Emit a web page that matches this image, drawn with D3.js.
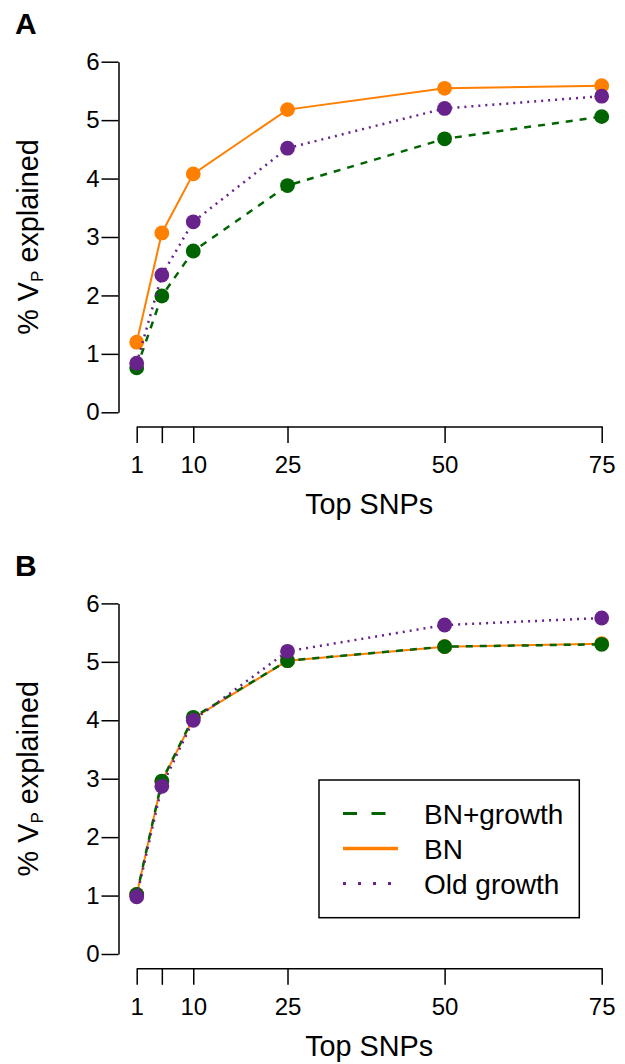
<!DOCTYPE html>
<html><head><meta charset="utf-8">
<script src="https://cdn.jsdelivr.net/npm/d3@7"></script>
<style>
body{margin:0;background:#fff;}
text{font-family:"Liberation Sans",Arial,Helvetica,sans-serif;fill:#000;}
</style></head>
<body>
<svg id="chart" width="625" height="1064"></svg>
<script>
const snps = [1, 5, 10, 25, 50, 75];
const xTickLabels = ["1", "", "10", "25", "50", "75"];
const yTicks = [0, 1, 2, 3, 4, 5, 6];
const seriesNames = ["BN+growth", "BN", "Old growth"];
const seriesColors = ["#006400", "#FF7F00", "#68228B"];

// Panel A
const A_bnGrowth = [0.76, 1.99, 2.76, 3.88, 4.68, 5.06];
const A_bn       = [1.20, 3.07, 4.08, 5.18, 5.545, 5.59];
const A_old      = [0.84, 2.35, 3.26, 4.52, 5.20, 5.41];
// Panel B
const B_bnGrowth = [1.02, 2.96, 4.05, 5.02, 5.26, 5.30];
const B_bn       = [1.02, 2.95, 4.03, 5.02, 5.26, 5.31];
const B_old      = [0.98, 2.87, 4.00, 5.18, 5.63, 5.75];

const svg = d3.select("#chart");
const styles = {
  "BN+growth": {dash: "7,7", width: 2.5},
  "BN": {dash: null, width: 2},
  "Old growth": {dash: "2,5", width: 2.5}
};
const drawOrder = ["BN", "BN+growth", "Old growth"];

function panel(opts) {
  const g = svg.append("g");
  const x = d3.scaleLinear().domain([1, 75]).range([136.7, 601.7]);
  const y = d3.scaleLinear().domain([0, 6]).range([opts.y0, opts.y0 - 350.6]);
  const axX = 118.5;
  const axisY = opts.y0 + 14.3;

  // y axis
  const ya = g.append("g").attr("transform", `translate(${axX},0)`)
    .call(d3.axisLeft(y).tickValues(yTicks).tickFormat(d3.format("d")).tickSize(17).tickPadding(2).tickSizeOuter(0));
  ya.select(".domain").attr("stroke", "#000").attr("stroke-width", 1.5);
  ya.selectAll(".tick line").attr("stroke", "#000").attr("stroke-width", 1.5);
  ya.selectAll(".tick text").attr("font-size", 24).attr("font-family", "Liberation Sans, Arial, sans-serif").attr("fill", "#000");

  // x axis
  const xa = g.append("g").attr("transform", `translate(0,${axisY})`)
    .call(d3.axisBottom(x).tickValues(snps).tickFormat((d, i) => xTickLabels[i]).tickSize(16.5).tickPadding(13).tickSizeOuter(0));
  xa.select(".domain").attr("stroke", "#000").attr("stroke-width", 1.5);
  xa.selectAll(".tick line").attr("stroke", "#000").attr("stroke-width", 1.5);
  xa.selectAll(".tick text").attr("font-size", 24).attr("font-family", "Liberation Sans, Arial, sans-serif").attr("fill", "#000");

  // titles
  g.append("text").attr("x", 369.2).attr("y", axisY + 87.5).attr("text-anchor", "middle")
    .attr("font-size", 28.8).text("Top SNPs");
  const ty = (y(0) + y(6)) / 2;
  const yt = g.append("text").attr("transform", `translate(38,${ty}) rotate(-90)`)
    .attr("text-anchor", "middle").attr("font-size", 28.8);
  yt.append("tspan").text("% V");
  yt.append("tspan").attr("font-size", 17).attr("dy", 5).text("P");
  yt.append("tspan").attr("dy", -5).text(" explained");

  g.append("text").attr("x", 15).attr("y", opts.labelY).attr("font-size", 30)
    .attr("font-weight", "bold").text(opts.label);

  const line = d3.line().x((d, i) => x(snps[i])).y(d => y(d));
  drawOrder.forEach(name => {
    const idx = seriesNames.indexOf(name);
    const vals = opts.data[name];
    const st = styles[name];
    g.append("path").datum(vals).attr("d", line).attr("fill", "none")
      .attr("stroke", seriesColors[idx]).attr("stroke-width", st.width)
      .attr("stroke-dasharray", st.dash);
    g.selectAll(null).data(vals).enter().append("circle")
      .attr("cx", (d, i) => x(snps[i])).attr("cy", d => y(d)).attr("r", 7.4)
      .attr("fill", seriesColors[idx]);
  });
  return {g, x, y};
}

panel({y0: 412.3, label: "A", labelY: 33.5,
  data: {"BN+growth": A_bnGrowth, "BN": A_bn, "Old growth": A_old}});
panel({y0: 954, label: "B", labelY: 575.5,
  data: {"BN+growth": B_bnGrowth, "BN": B_bn, "Old growth": B_old}});

// legend
const lg = svg.append("g");
lg.append("rect").attr("x", 319).attr("y", 780).attr("width", 260.3).attr("height", 137.7)
  .attr("fill", "#fff").attr("stroke", "#000").attr("stroke-width", 1.5);
const legendStyles = {
  "BN+growth": {dash: "14,14.5", width: 3.2},
  "BN": {dash: null, width: 3.5},
  "Old growth": {dash: "3,12", width: 3}
};
const legendY = d3.scaleBand().domain(seriesNames).range([796, 901]);
seriesNames.forEach((name, i) => {
  const cy = legendY(name) + legendY.bandwidth() / 2;
  const st = legendStyles[name];
  lg.append("line").attr("x1", 343).attr("x2", 398).attr("y1", cy).attr("y2", cy)
    .attr("stroke", seriesColors[i]).attr("stroke-width", st.width).attr("stroke-dasharray", st.dash);
  lg.append("text").attr("x", 424).attr("y", cy + 10).attr("font-size", 28).text(name);
});
</script>
</body></html>
